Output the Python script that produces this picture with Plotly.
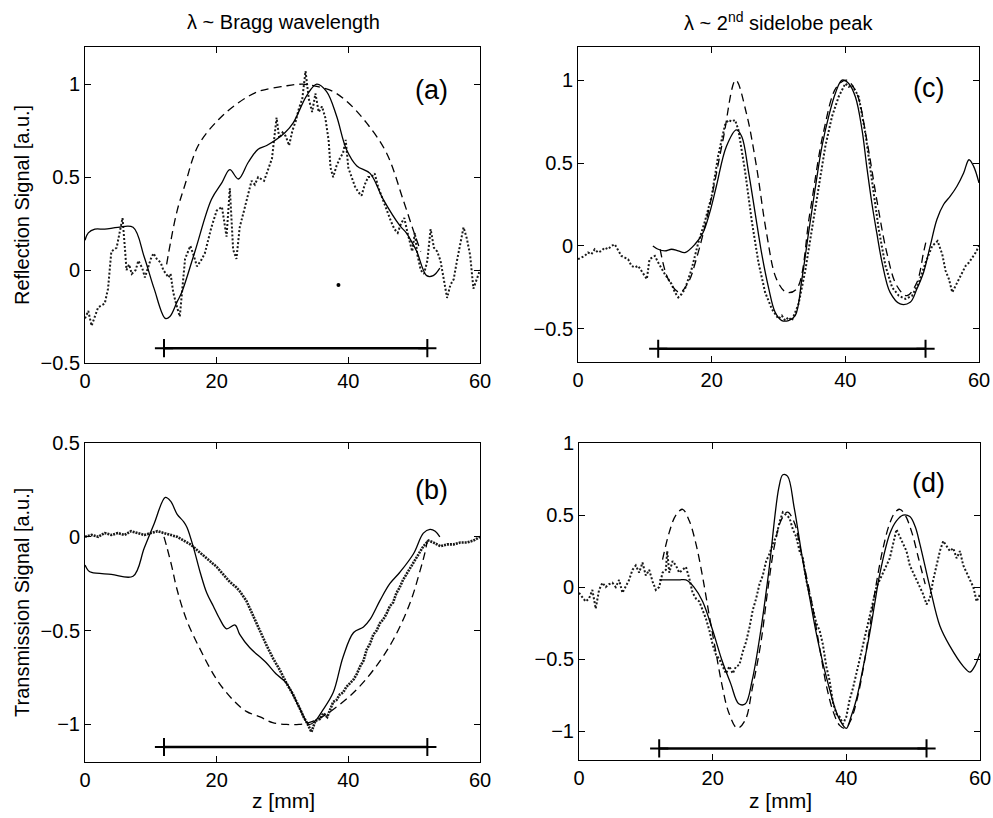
import plotly.graph_objects as go

W, H = 993, 818

# ---------------- data: panel (a) reflection, Bragg wavelength ----------------
a_theory_z = [12.4, 13, 14, 15.2, 17.2, 20.3, 23.3, 26.3, 30.4, 33, 35, 37.7, 40, 42.8, 45.8, 48.4, 50, 51]
a_theory_y = [0.03, 0.15, 0.32, 0.46, 0.67, 0.81, 0.9, 0.96, 0.99, 1.0, 0.99, 0.96, 0.9, 0.79, 0.63, 0.37, 0.2, 0.1]
a_sim_z = [0, 0.5, 1.5, 3, 5, 7.3, 9, 10.5, 12.2, 12.9, 14, 14.7, 16.7, 19.2, 20.8, 22, 23.3, 24.8, 26.3, 27.6,
           30.4, 31.6, 33.7, 35.2, 36.7, 38.2, 39.7, 41.3, 43.3, 45.3, 47.8, 48.8, 49.5, 50.4, 51.9, 52.9, 53.9]
a_sim_y = [0.16, 0.2, 0.22, 0.22, 0.23, 0.23, 0.07, -0.1, -0.26, -0.25, -0.17, -0.12, 0.1, 0.38, 0.47, 0.54,
           0.49, 0.58, 0.65, 0.67, 0.74, 0.79, 0.94, 1.0, 0.96, 0.83, 0.65, 0.56, 0.52, 0.38, 0.24, 0.2, 0.16,
           0.1, -0.03, -0.03, 0.01]
a_meas_z = [0, 0.5, 1, 1.5, 2, 2.5, 3, 3.5, 4, 4.8, 5.3, 5.7, 6.1, 6.3, 6.7, 7.1, 7.7, 8.1, 8.7, 9.1, 10, 10.4,
            10.9, 11.5, 11.9, 12.7, 13, 13.4, 13.9, 14.4, 15.2, 16, 16.5, 17, 17.6, 18.2, 19.2, 20, 20.8, 21.5,
            22, 22.5, 23, 23.5, 24.3, 25.3, 25.8, 26.3, 27.2, 27.8, 28.4, 29.1, 29.5, 30, 30.5, 31, 31.5, 32,
            32.5, 33, 33.5, 34, 34.5, 35, 35.5, 36, 36.5, 37, 37.3, 37.7, 38.2, 38.7, 39.2, 39.6, 40, 40.5, 41,
            41.5, 42, 42.5, 43, 43.5, 44, 44.5, 45, 45.5, 46, 46.5, 47, 47.5, 48, 48.5, 49, 49.3, 49.7, 50.1,
            50.5, 51, 51.5, 52, 52.5, 53, 53.5, 54, 54.5, 55, 55.5, 56, 56.5, 57, 57.5, 58, 58.5, 59, 59.5, 60]
a_meas_y = [-0.26, -0.22, -0.3, -0.25, -0.2, -0.19, -0.18, -0.1, 0.1, 0.12, 0.2, 0.28, 0.1, 0.0, 0.03, -0.02,
            0.0, 0.05, 0.01, -0.04, 0.06, 0.09, 0.06, 0.04, 0.0, -0.04, -0.02, -0.12, -0.19, -0.25, 0.06, 0.13,
            0.08, 0.02, 0.05, 0.09, 0.23, 0.32, 0.34, 0.18, 0.44, 0.11, 0.06, 0.23, 0.34, 0.48, 0.46, 0.5, 0.48,
            0.54, 0.6, 0.82, 0.71, 0.74, 0.72, 0.67, 0.75, 0.8, 0.87, 0.92, 1.07, 0.92, 0.85, 0.95, 0.85, 0.88,
            0.82, 0.7, 0.55, 0.5, 0.56, 0.6, 0.63, 0.7, 0.55, 0.5, 0.45, 0.42, 0.4, 0.46, 0.5, 0.5, 0.52, 0.45,
            0.4, 0.35, 0.3, 0.26, 0.22, 0.2, 0.25, 0.28, 0.2, 0.15, 0.1, 0.2, 0.08, 0.0, -0.02, 0.05, 0.22,
            0.12, 0.1, 0.05, -0.05, -0.15, -0.08, -0.05, 0.05, 0.15, 0.23, 0.17, 0.08, -0.1, -0.05, 0.0]
a_outlier_z = [38.5]
a_outlier_y = [-0.08]

# ---------------- data: panel (b) transmission, Bragg wavelength ----------------
b_theory_z = [12, 12.4, 13.2, 13.9, 15.4, 17.5, 20, 22.5, 24.5, 26.6, 28.5, 30.6, 32.5, 34, 35.5, 37.7, 40.8,
              43.8, 46.8, 49.4, 50.9, 51.6, 52]
b_theory_y = [0.0, -0.05, -0.16, -0.27, -0.44, -0.6, -0.76, -0.87, -0.93, -0.96, -0.99, -1.0, -1.0, -0.99,
              -0.97, -0.92, -0.83, -0.71, -0.55, -0.35, -0.18, -0.09, -0.02]
b_sim_z = [0, 0.5, 1, 4, 7.3, 9, 10.5, 12.2, 13, 14, 15, 15.5, 16.5, 17.5, 18.5, 19.5, 20.5, 21.5, 22.8, 23.5,
           25, 27.5, 29, 30.6, 32.7, 34, 35, 36, 37.7, 39.2, 40.8, 42.3, 43.3, 44.8, 46.3, 47.8, 49.9, 51.4,
           52.4, 53.2, 53.9]
b_sim_y = [-0.15, -0.18, -0.19, -0.2, -0.21, -0.06, 0.07, 0.21, 0.19, 0.12, 0.08, 0.05, -0.06, -0.19, -0.3,
           -0.37, -0.44, -0.49, -0.47, -0.52, -0.59, -0.67, -0.73, -0.78, -0.92, -1.0, -0.98, -0.93, -0.83,
           -0.64, -0.51, -0.48, -0.44, -0.34, -0.25, -0.19, -0.09, 0.02, 0.04, 0.03, 0.0]
b_meas_z = [0, 1, 2, 3, 4, 5, 6, 7, 8, 9, 10, 11, 12, 13, 14, 15, 16, 17, 18, 19, 20, 21, 22, 23, 23.5, 24.5,
            25, 25.8, 26.6, 27.6, 28.6, 29.6, 30.6, 31.6, 32.7, 33.2, 33.7, 34.4, 35, 35.7, 36.2, 36.8, 37.7,
            38.2, 38.7, 39.2, 39.7, 40.3, 40.8, 41.3, 41.8, 42.3, 42.8, 43.3, 43.8, 44.3, 44.8, 45.3, 45.8,
            46.3, 46.8, 47.3, 47.8, 48.3, 48.8, 49.4, 49.9, 50.7, 51.4, 52.2, 52.9, 54, 55, 56, 57, 58, 59, 60]
b_meas_y = [0.0, 0.01, 0.0, 0.02, 0.01, 0.02, 0.01, 0.03, 0.02, 0.01, 0.02, 0.03, 0.02, 0.01, 0.0, -0.02,
            -0.04, -0.07, -0.1, -0.13, -0.16, -0.2, -0.24, -0.27, -0.29, -0.34, -0.38, -0.44, -0.5, -0.58,
            -0.65, -0.71, -0.78, -0.84, -0.92, -0.96, -0.99, -1.04, -0.98, -0.97, -0.94, -0.96, -0.88, -0.87,
            -0.84, -0.83, -0.8, -0.78, -0.76, -0.73, -0.69, -0.66, -0.6, -0.57, -0.52, -0.5, -0.46, -0.44,
            -0.41, -0.37, -0.35, -0.3, -0.27, -0.23, -0.2, -0.17, -0.14, -0.09, -0.05, -0.02, -0.03, -0.05,
            -0.04, -0.04, -0.03, -0.03, -0.02, 0.0]

# ---------------- data: panel (c) reflection, 2nd sidelobe peak ----------------
c_theory_z = [12.3, 13.5, 15.2, 16.5, 17.7, 19.7, 21.7, 23.6, 25.2, 26.7, 28.2, 29.7, 31.2, 32.7, 34.7, 36.7,
              38.7, 40.2, 41.7, 43.2, 44.7, 46.2, 47.7, 49.2, 50.7, 51.7, 52.2]
c_theory_y = [-0.02, -0.2, -0.28, -0.22, -0.08, 0.24, 0.64, 1.0, 0.8, 0.48, 0.08, -0.2, -0.28, -0.26, 0.2,
              0.68, 0.96, 1.0, 0.92, 0.64, 0.28, -0.04, -0.24, -0.3, -0.22, -0.04, 0.05]
c_sim_z = [11.2, 12, 13, 14, 15, 16, 17.5, 18.7, 19.7, 20.7, 22.2, 23.7, 24.5, 25.5, 26.5, 27.5, 28.5, 29.5,
           30.5, 31.5, 32.5, 33.5, 34.5, 35.5, 36.5, 37.5, 38.5, 39.5, 40.5, 41.5, 42.5, 43.2, 44, 44.7, 45.5,
           46.7, 48.2, 49.7, 50.7, 51.7, 52.7, 53.7, 54.7, 55.7, 56.7, 57.7, 58.5, 59.2, 60]
c_sim_y = [0.0, -0.02, -0.03, -0.02, -0.03, -0.04, 0.01, 0.08, 0.2, 0.36, 0.6, 0.7, 0.66, 0.45, 0.2, -0.05,
           -0.25, -0.4, -0.45, -0.45, -0.42, -0.2, 0.08, 0.35, 0.6, 0.78, 0.92, 1.0, 0.98, 0.9, 0.7, 0.48,
           0.25, 0.08, -0.1, -0.28, -0.35, -0.34, -0.26, -0.16, 0.0, 0.16, 0.25, 0.3, 0.36, 0.44, 0.52, 0.48,
           0.38]
c_meas_z = [0, 0.5, 1, 1.5, 2, 2.5, 3, 3.5, 4, 4.5, 5, 5.5, 6, 6.5, 7, 7.5, 8, 8.5, 9, 9.5, 10, 10.3, 10.7,
            11.5, 12, 12.5, 13, 13.5, 14, 14.5, 15, 15.5, 16, 17, 18, 19, 20, 21, 22, 22.5, 23, 23.5, 24, 25,
            26, 27, 28, 29, 30, 30.5, 31, 31.5, 32, 33, 34, 35, 36, 37, 38, 39, 40, 40.5, 41, 41.5, 42, 43, 44,
            45, 46, 47, 48, 49, 50, 51, 52, 53, 53.8, 54.5, 55, 55.5, 56, 56.5, 57, 57.5, 58, 58.5, 59, 59.5, 60]
c_meas_y = [-0.08, -0.07, -0.06, -0.04, -0.05, -0.02, -0.04, -0.03, -0.01, -0.02, 0.0, 0.01, -0.03, -0.06,
            -0.07, -0.08, -0.12, -0.13, -0.12, -0.15, -0.18, -0.2, -0.08, -0.06, -0.1, -0.14, -0.17, -0.2,
            -0.23, -0.28, -0.31, -0.29, -0.26, -0.14, 0.02, 0.15, 0.3, 0.55, 0.73, 0.76, 0.75, 0.76, 0.7,
            0.45, 0.15, -0.1, -0.28, -0.38, -0.44, -0.42, -0.45, -0.43, -0.45, -0.35, -0.15, 0.1, 0.35, 0.6,
            0.78, 0.9, 0.98, 0.96, 0.97, 0.93, 0.9, 0.68, 0.4, 0.1, -0.12, -0.25, -0.3, -0.32, -0.3, -0.22,
            -0.1, 0.0, 0.03, -0.05, -0.15, -0.2, -0.28, -0.24, -0.2, -0.15, -0.12, -0.1, -0.07, -0.04, 0.0]

# ---------------- data: panel (d) transmission, 2nd sidelobe peak ----------------
d_theory_z = [12.5, 13.5, 14.5, 15.5, 16.5, 17.5, 18.5, 19.5, 20.4, 21.4, 22.4, 23.7, 24.9, 25.9, 27.2, 28.3,
              29.3, 30.3, 31.2, 32.2, 33.2, 34.8, 36, 37, 38, 39, 39.8, 40.7, 41.7, 42.7, 43.5, 44.4, 45.4,
              46.4, 47.3, 48, 48.8, 49.8, 50.8, 51.8]
d_theory_y = [0.19, 0.38, 0.5, 0.54, 0.46, 0.3, 0.07, -0.2, -0.43, -0.68, -0.87, -0.98, -0.92, -0.71, -0.39,
              0.0, 0.3, 0.47, 0.52, 0.45, 0.25, -0.1, -0.42, -0.68, -0.86, -0.96, -0.98, -0.92, -0.76, -0.52,
              -0.28, 0.0, 0.25, 0.43, 0.52, 0.54, 0.5, 0.38, 0.2, 0.02]
d_sim_z = [12, 13, 14, 15, 16, 17.2, 18.5, 20, 21.4, 22.7, 23.9, 24.9, 25.9, 27.2, 28.4, 29.9, 30.5, 31.2,
           32.2, 33.5, 34.5, 35.5, 36.5, 37.5, 38.3, 39, 40, 40.7, 41.5, 42.5, 43.5, 44.3, 45, 46.5, 47.5, 48.5,
           49.5, 50.3, 51, 52.5, 54, 55.5, 57.5, 58.5, 59.2, 60]
d_sim_y = [0.05, 0.05, 0.05, 0.05, 0.05, 0.0, -0.1, -0.3, -0.51, -0.67, -0.81, -0.81, -0.65, -0.3, 0.11, 0.69,
           0.78, 0.77, 0.55, 0.18, -0.07, -0.32, -0.53, -0.71, -0.84, -0.92, -0.98, -0.9, -0.78, -0.56, -0.32,
           -0.1, 0.09, 0.37, 0.46, 0.5, 0.49, 0.42, 0.3, 0.0, -0.27, -0.41, -0.55, -0.59, -0.55, -0.46]
d_meas_z = [0, 0.5, 1, 1.5, 2, 2.5, 3, 3.5, 4, 4.5, 5, 5.5, 6, 6.5, 7, 7.5, 8, 8.5, 9, 9.5, 10, 10.5, 11, 11.5,
            12, 12.5, 13, 13.2, 13.5, 14, 14.5, 15, 15.5, 16, 16.5, 17, 17.5, 18, 18.5, 19, 19.5, 20, 20.5, 21,
            21.5, 22, 22.5, 23, 23.5, 24, 24.5, 25, 25.5, 26, 26.5, 27, 27.5, 28, 28.5, 29, 29.5, 30, 30.5, 31,
            31.5, 32, 32.5, 33, 33.5, 34, 34.5, 35, 35.5, 36, 36.5, 37, 37.5, 38, 38.5, 39, 39.5, 40, 40.5, 41,
            41.5, 42, 42.5, 43, 43.5, 44, 44.5, 45, 45.5, 46, 46.5, 47, 47.5, 48, 48.5, 49, 49.5, 50, 50.5, 51,
            51.5, 52, 52.5, 53, 53.5, 54, 54.5, 55, 55.5, 56, 56.5, 57, 57.5, 58, 58.5, 59, 59.5, 60]
d_meas_y = [-0.04, -0.07, -0.1, -0.08, -0.02, -0.15, -0.02, 0.03, 0.0, 0.02, 0.03, 0.0, 0.05, -0.04, 0.0, 0.05,
            0.12, 0.15, 0.1, 0.17, 0.08, 0.12, 0.04, -0.02, 0.0, 0.1, 0.12, 0.25, 0.1, 0.18, 0.15, 0.1, 0.12,
            0.14, 0.06, -0.04, -0.08, -0.1, -0.16, -0.22, -0.3, -0.4, -0.47, -0.5, -0.55, -0.6, -0.55, -0.6,
            -0.55, -0.54, -0.45, -0.38, -0.28, -0.16, -0.08, 0.02, 0.08, 0.18, 0.23, 0.3, 0.35, 0.45, 0.52, 0.5,
            0.48, 0.4, 0.35, 0.25, 0.2, 0.05, -0.05, -0.15, -0.25, -0.3, -0.4, -0.55, -0.65, -0.8, -0.88, -0.9,
            -0.95, -0.9, -0.78, -0.7, -0.6, -0.5, -0.4, -0.3, -0.2, -0.1, 0.0, 0.05, 0.1, 0.15, 0.2, 0.3, 0.4,
            0.35, 0.3, 0.25, 0.15, 0.1, 0.05, 0.0, -0.05, -0.12, -0.08, 0.05, 0.15, 0.25, 0.32, 0.28, 0.25,
            0.27, 0.2, 0.25, 0.15, 0.1, 0.05, 0.0, -0.1, -0.05]

# ---------------- grating-length markers and axis settings ----------------
bar_z = [12, 52]
bar_level = {"a": -0.42, "b": -1.12, "c": -0.62, "d": -1.12}
x_range = [0, 60]
x_ticks = [0, 20, 40, 60]
y_range = {"a": [-0.5, 1.2], "b": [-1.2, 0.5], "c": [-0.7, 1.2], "d": [-1.2, 1.0]}
y_ticks = {"a": [-0.5, 0, 0.5, 1], "b": [-1, -0.5, 0, 0.5], "c": [-0.5, 0, 0.5, 1], "d": [-1, -0.5, 0, 0.5, 1]}
titles = ["λ ~ Bragg wavelength", "λ ~ 2<sup>nd</sup> sidelobe peak"]
y_titles = ["Reflection Signal [a.u.]", "Transmission Signal [a.u.]"]
x_title = "z [mm]"

FONT = "Liberation Sans, Arial, Helvetica, sans-serif"

# pixel boxes of the four panels (left, right, top, bottom)
boxes = {"a": (85, 480, 47, 363), "c": (578, 979, 47, 362),
         "b": (85, 480, 443, 762), "d": (579, 980, 443, 760)}
axis_ids = {"a": "", "c": "2", "b": "3", "d": "4"}

data = {
    "a": (a_theory_z, a_theory_y, a_sim_z, a_sim_y, a_meas_z, a_meas_y),
    "b": (b_theory_z, b_theory_y, b_sim_z, b_sim_y, b_meas_z, b_meas_y),
    "c": (c_theory_z, c_theory_y, c_sim_z, c_sim_y, c_meas_z, c_meas_y),
    "d": (d_theory_z, d_theory_y, d_sim_z, d_sim_y, d_meas_z, d_meas_y),
}

fig = go.Figure()
layout = {}
for key, (tz, ty, sz, sy, mz, my) in data.items():
    i = axis_ids[key]
    xa, ya = "x" + i, "y" + i
    l, r, t, b = boxes[key]
    common = dict(showgrid=False, zeroline=False, showline=True, linecolor="black", linewidth=1,
                  mirror="allticks", ticks="inside", ticklen=6, tickwidth=1, tickcolor="black",
                  automargin=False,
                  tickfont=dict(family=FONT, size=20, color="black"))
    layout["xaxis" + i] = dict(domain=[l / W, r / W], range=x_range, tickvals=x_ticks,
                               anchor=ya, **common)
    layout["yaxis" + i] = dict(domain=[1 - b / H, 1 - t / H], range=y_range[key], tickvals=y_ticks[key],
                               anchor=xa, **common)
    # measured (dotted)
    mwidth = 2.6 if key == "b" else 2.0
    mdash = "2px,1px" if key == "b" else "2px,2px"
    fig.add_trace(go.Scatter(x=mz, y=my, xaxis=xa, yaxis=ya, mode="lines",
                             line=dict(color="#1a1a1a", width=mwidth, dash=mdash), showlegend=False))
    # theory (dashed)
    fig.add_trace(go.Scatter(x=tz, y=ty, xaxis=xa, yaxis=ya, mode="lines", line_shape="spline",
                             line=dict(color="black", width=1.3, dash="8px,5px"), showlegend=False))
    # simulation (solid)
    fig.add_trace(go.Scatter(x=sz, y=sy, xaxis=xa, yaxis=ya, mode="lines", line_shape="spline",
                             line=dict(color="black", width=1.3), showlegend=False))
    # grating extent bar
    lvl = bar_level[key]
    fig.add_trace(go.Scatter(x=bar_z, y=[lvl, lvl], xaxis=xa, yaxis=ya, mode="lines+markers",
                             line=dict(color="black", width=2.5),
                             marker=dict(symbol="cross-thin", size=13, line=dict(color="black", width=2)),
                             showlegend=False))

fig.add_trace(go.Scatter(x=a_outlier_z, y=a_outlier_y, xaxis="x", yaxis="y", mode="markers",
                         marker=dict(color="black", size=4), showlegend=False))

ann = []
def px(xp, yp):
    return xp / W, 1 - yp / H

for txt, xc in zip(titles, [283, 778]):
    x, y = px(xc, 22)
    ann.append(dict(text=txt, x=x, y=y, xref="paper", yref="paper", showarrow=False,
                    font=dict(family=FONT, size=20, color="black"), xanchor="center", yanchor="middle"))
for txt, yc in zip(y_titles, [205, 603]):
    x, y = px(22, yc)
    ann.append(dict(text=txt, x=x, y=y, xref="paper", yref="paper", showarrow=False, textangle=-90,
                    font=dict(family=FONT, size=20, color="black"), xanchor="center", yanchor="middle"))
for xc in [283, 780]:
    x, y = px(xc, 800)
    ann.append(dict(text=x_title, x=x, y=y, xref="paper", yref="paper", showarrow=False,
                    font=dict(family=FONT, size=21, color="black"), xanchor="center", yanchor="middle"))
for lab, (xc, yc) in zip(["(a)", "(b)", "(c)", "(d)"], [(431, 90), (431, 490), (928, 88), (928, 483)]):
    x, y = px(xc, yc)
    ann.append(dict(text=lab, x=x, y=y, xref="paper", yref="paper", showarrow=False,
                    font=dict(family=FONT, size=27, color="black"), xanchor="center", yanchor="middle"))

fig.update_layout(width=W, height=H, margin=dict(l=0, r=0, t=0, b=0), plot_bgcolor="white",
                  paper_bgcolor="white", annotations=ann, hovermode=False, **layout)
fig.write_html("out.html", config={"displayModeBar": False, "staticPlot": True},
               post_script="document.body.style.margin='0px';document.body.style.overflow='hidden';")
